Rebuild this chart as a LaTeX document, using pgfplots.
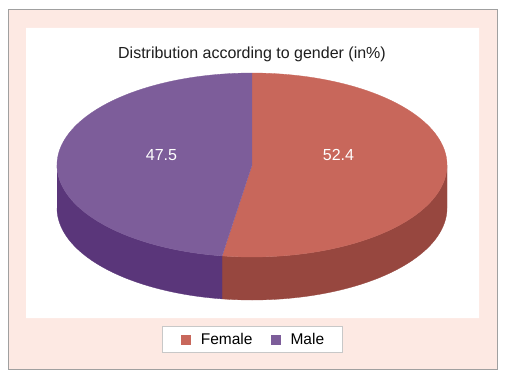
\documentclass[border=0pt]{standalone}
\usepackage{pgfplots}
\pgfplotsset{compat=1.18}
\usepackage{fontspec}
\setmainfont{Liberation Sans}
\definecolor{femTop}{HTML}{C8675B}
\definecolor{femSide}{HTML}{97473F}
\definecolor{malTop}{HTML}{7D5D9A}
\definecolor{malSide}{HTML}{5A367A}
\definecolor{pinkbg}{HTML}{FDE9E3}
\definecolor{framegray}{HTML}{A0A0A0}
\definecolor{leggray}{HTML}{C8C8C8}
% data (in %)
\def\valF{52.4}
\def\valM{47.5}
\pgfmathsetmacro{\aF}{90-360*(\valF/(\valF+\valM))}
\def\cx{252}\def\cy{165}\def\rx{195}\def\ry{92}\def\dd{43}
\begin{document}
\begin{tikzpicture}
\begin{axis}[
  scale only axis, width=506bp, height=375bp,
  xmin=0, xmax=506, ymin=0, ymax=375, y dir=reverse,
  hide axis, clip=false,
  legend columns=2,
  legend image code/.code={\fill[#1] (0bp,-4.5bp) rectangle (9bp,4.5bp);},
  legend style={at={(axis cs:252.5,339.5)}, anchor=center,
    draw=leggray, line width=1bp, fill=white,
    inner xsep=18bp, inner ysep=6.5bp,
    font=\fontsize{15.5bp}{18bp}\selectfont,
    nodes={inner sep=0bp},
    /tikz/every odd column/.append style={column sep=10bp},
    /tikz/every even column/.append style={column sep=18bp}},
]
% canvas and frames
\addplot[fill=white, draw=none, forget plot] coordinates {(0,0)(506,0)(506,375)(0,375)(0,0)};
\addplot[fill=pinkbg, draw=framegray, line width=1bp, forget plot] coordinates {(8,10)(497,10)(497,369)(8,369)(8,10)};
\addplot[fill=white, draw=none, forget plot] coordinates {(26,28)(479,28)(479,318)(26,318)(26,28)};
% sides
\addplot[fill=femSide, draw=femSide, line width=0.3bp, forget plot, domain=0:3, samples=301, variable=\t]
 ({\cx+\rx*cos((\t<1) ? (\aF+(0-\aF)*\t) : ((\t<2) ? 0 : (0-(0-\aF)*(\t-2))))},
  {\cy-\ry*sin((\t<1) ? (\aF+(0-\aF)*\t) : ((\t<2) ? 0 : (0-(0-\aF)*(\t-2)))) + ((\t<1) ? 0 : ((\t<2) ? \dd*(\t-1) : \dd))});
\addplot[fill=malSide, draw=malSide, line width=0.3bp, forget plot, domain=0:3, samples=301, variable=\t]
 ({\cx+\rx*cos((\t<1) ? (-180+(\aF+180)*\t) : ((\t<2) ? \aF : (\aF-(\aF+180)*(\t-2))))},
  {\cy-\ry*sin((\t<1) ? (-180+(\aF+180)*\t) : ((\t<2) ? \aF : (\aF-(\aF+180)*(\t-2)))) + ((\t<1) ? 0 : ((\t<2) ? \dd*(\t-1) : \dd))});
% top wedges
\addplot[fill=femTop, draw=femTop, line width=0.3bp, forget plot, domain=-0.05:1, samples=106, variable=\t]
 ({\cx+((\t<0) ? 0 : 1)*\rx*cos(90+(\aF-90)*max(\t,0))},
  {\cy-((\t<0) ? 0 : 1)*\ry*sin(90+(\aF-90)*max(\t,0))});
\addplot[fill=malTop, draw=malTop, line width=0.3bp, forget plot, domain=-0.05:1, samples=106, variable=\t]
 ({\cx+((\t<0) ? 0 : 1)*\rx*cos(\aF+(-270-\aF)*max(\t,0))},
  {\cy-((\t<0) ? 0 : 1)*\ry*sin(\aF+(-270-\aF)*max(\t,0))});
% labels
\node[anchor=base, font=\fontsize{16bp}{19bp}\selectfont, text={rgb,255:red,30;green,30;blue,30}] at (axis cs:252,58) {Distribution according to gender (in\%)};
\node[anchor=base, font=\fontsize{16bp}{19bp}\selectfont, text=white] at (axis cs:161.5,160) {\valM};
\node[anchor=base, font=\fontsize{16bp}{19bp}\selectfont, text=white] at (axis cs:338.5,160) {\valF};
% legend
\addlegendimage{femTop}
\addlegendentry{Female}
\addlegendimage{malTop}
\addlegendentry{Male}
\end{axis}
\end{tikzpicture}
\end{document}
